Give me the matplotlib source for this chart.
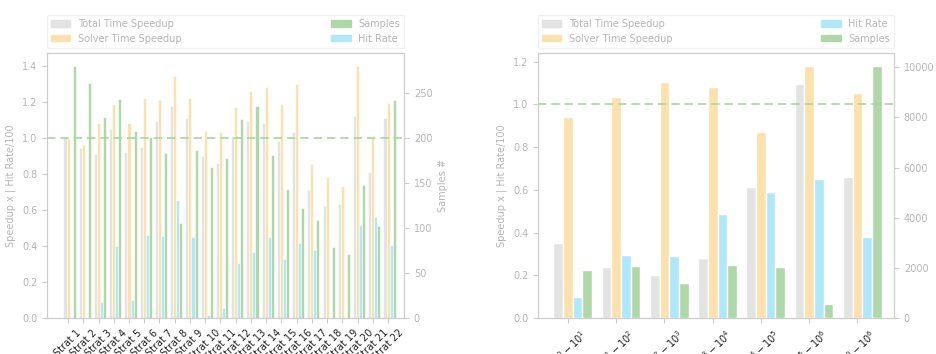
import numpy as np
import matplotlib
matplotlib.use('Agg')
import matplotlib.pyplot as plt
from matplotlib.patches import Patch
from matplotlib.transforms import blended_transform_factory

# ---------------- data: left chart (strategies) ----------------
strat_labels = [f"Strat {i}" for i in range(1, 23)]
strat_total_speedup = [1.01, 0.944, 0.914, 1.054, 0.921, 0.953, 1.095, 1.182, 1.114, 0.903, 0.862,
                       1.01, 1.095, 1.082, 0.984, 1.034, 0.711, 0.624, 0.632, 1.123, 0.811, 1.114]
strat_solver_speedup = [1.003, 0.962, 1.082, 1.193, 1.082, 1.226, 1.213, 1.346, 1.226, 1.043, 1.034,
                        1.173, 1.265, 1.285, 1.193, 1.304, 0.855, 0.783, 0.733, 1.404, 1.014, 1.195]
strat_hit_rate = [0, 0, 9.0, 40.0, 9.8, 46.0, 45.6, 65.9, 45.2, 1.5, 5.4,
                  30.8, 36.6, 45.2, 32.7, 41.9, 37.9, 0, 0, 51.7, 56.0, 40.4]
strat_samples = [280, 261, 223, 243, 208, 201, 183, 105, 186, 167, 178,
                 221, 235, 181, 143, 122, 109, 79, 71, 148, 102, 242]

# ---------------- data: right chart (ranges) ----------------
range_labels = [r"$10^0 - 10^1$", r"$10^1 - 10^2$", r"$10^2 - 10^3$", r"$10^3 - 10^4$",
                r"$10^4 - 10^5$", r"$10^5 - 10^6$", r"$10^0 - 10^6$"]
range_total_speedup = [0.351, 0.239, 0.200, 0.280, 0.614, 1.093, 0.662]
range_solver_speedup = [0.940, 1.032, 1.102, 1.083, 0.870, 1.181, 1.051]
range_hit_rate = [9.9, 29.4, 29.1, 48.8, 58.9, 65.0, 37.8]
range_samples = [1934, 2080, 1391, 2132, 2053, 570, 10066]

C_TOTAL = '#e3e3e3'
C_SOLVER = '#fde1ac'
C_HIT = '#afe8fa'
C_SAMPLES = '#afd8a9'
C_DASH = '#a6d79e'
C_TEXT = '#b5b5b5'
C_SPINE = '#cccccc'
FS = 7

fig = plt.figure(figsize=(9.37, 3.54), dpi=100)
plt.rcParams['font.size'] = FS


def panel(rect, labels, total, solver, hit, samples, order, xlim, lw):
    ax = fig.add_axes(rect)
    ax2 = ax.twinx()
    x = np.arange(len(labels))
    w = 0.2
    ax.bar(x - w, total, w, color=C_TOTAL, edgecolor='white', linewidth=lw)
    ax.bar(x, solver, w, color=C_SOLVER, edgecolor='white', linewidth=lw)
    ax.bar(x + w, np.array(hit) / 100.0, w, color=C_HIT, edgecolor='white', linewidth=lw)
    ax2.bar(x + 2 * w, samples, w, color=C_SAMPLES, edgecolor='white', linewidth=lw)
    top = max(max(total), max(solver)) * 1.05
    ax.set_ylim(0, top)
    ax2.set_ylim(0, max(samples) * 1.05)
    ax.set_xlim(*xlim)
    tr = blended_transform_factory(ax2.transAxes, ax.transData)
    ax2.plot([0, 1], [1.0, 1.0], transform=tr, ls='--', color=C_DASH, lw=1.2, dashes=(5, 3))
    ax.set_xticks(x)
    ax.set_xticklabels(labels, rotation=45, color='#222222')
    for a in (ax, ax2):
        for s in a.spines.values():
            s.set_color(C_SPINE)
        a.tick_params(colors=C_SPINE, labelcolor=C_TEXT, labelsize=FS)
    ax.tick_params(axis='x', labelcolor='#222222')
    ax.set_ylabel('Speedup x | Hit Rate/100', color=C_TEXT, fontsize=FS)
    ax2.set_ylabel('Samples #', color=C_TEXT, fontsize=FS)
    handles = {
        'total': Patch(color=C_TOTAL, label='Total Time Speedup'),
        'solver': Patch(color=C_SOLVER, label='Solver Time Speedup'),
        'hit': Patch(color=C_HIT, label='Hit Rate'),
        'samples': Patch(color=C_SAMPLES, label='Samples'),
    }
    hs = [handles[k] for k in order]
    leg = ax.legend(handles=hs, bbox_to_anchor=(0., 1.02, 1., .102), loc='lower left',
                    ncol=2, mode='expand', borderaxespad=0., fontsize=FS, framealpha=1,
                    handlelength=2.0, handleheight=0.6)
    leg.get_frame().set_edgecolor('#f0f0f0')
    for t in leg.get_texts():
        t.set_color(C_TEXT)
    return ax, ax2


panel([0.0502, 0.1017, 0.381, 0.7486], strat_labels, strat_total_speedup, strat_solver_speedup,
      strat_hit_rate, strat_samples, ['total', 'solver', 'samples', 'hit'], (-1.38, 22.05), 0.4)
panel([0.5742, 0.1017, 0.380, 0.7486], range_labels, range_total_speedup, range_solver_speedup,
      range_hit_rate, range_samples, ['total', 'solver', 'hit', 'samples'], (-0.62, 6.76), 1.0)

fig.savefig('out.png', dpi=100)
